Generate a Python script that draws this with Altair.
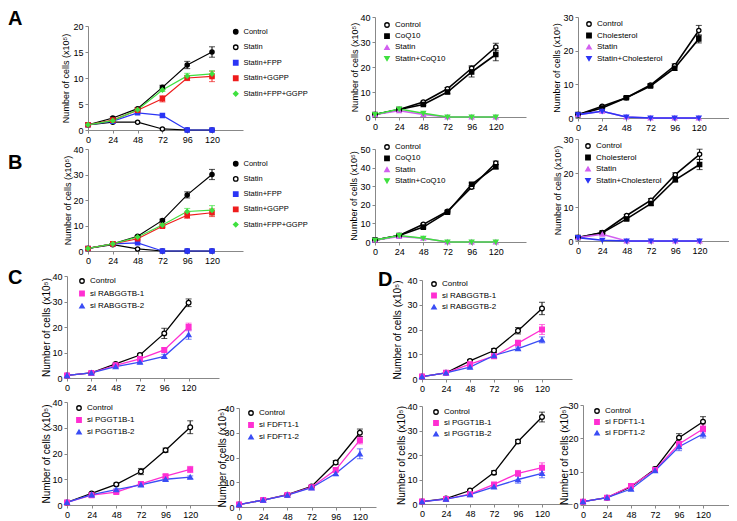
import altair as alt
import pandas as pd

FONT = "Liberation Sans"
TIME = [0, 24, 48, 72, 96, 120]
Y_TITLE = "Number of cells (x10\u2075)"
LETTERS = ["A", "B", "C", "D"]

# ---------------- data ----------------
A1_SERIES = ["Control", "Statin", "Statin+FPP", "Statin+GGPP", "Statin+FPP+GGPP"]
A1_VALUES = [
    [1.0, 2.3, 4.1, 8.2, 12.5, 15.0],
    [1.0, 1.5, 1.5, 0.2, 0.0, 0.0],
    [1.0, 1.7, 3.3, 2.8, 0.0, 0.0],
    [1.0, 1.9, 3.8, 6.0, 10.0, 10.3],
    [1.0, 1.8, 3.9, 7.7, 10.4, 10.8],
]
A1_ERRORS = [
    [0, 0.2, 0.2, 0.4, 0.7, 1.0],
    [0, 0, 0, 0, 0, 0],
    [0, 0, 0, 0, 0, 0],
    [0, 0.1, 0.2, 0.6, 0.5, 1.0],
    [0, 0.1, 0.2, 0.3, 0.5, 0.6],
]

A2_SERIES = ["Control", "CoQ10", "Statin", "Statin+CoQ10"]
A2_VALUES = [
    [1.0, 3.0, 6.0, 11.3, 19.5, 28.0],
    [1.0, 3.0, 5.0, 10.0, 18.0, 25.0],
    [1.0, 2.5, 1.0, 0.0, 0.0, 0.0],
    [1.0, 3.2, 1.5, 0.0, 0.0, 0.0],
]
A2_ERRORS = [
    [0, 0.2, 0.3, 0.5, 1.0, 1.5],
    [0, 0.2, 0.3, 0.7, 2.0, 2.5],
    [0, 0, 0, 0, 0, 0],
    [0, 0, 0, 0, 0, 0],
]

A3_SERIES = ["Control", "Cholesterol", "Statin", "Statin+Cholesterol"]
A3_VALUES = [
    [1.0, 3.5, 6.0, 9.8, 15.5, 26.0],
    [1.0, 3.0, 6.0, 9.5, 14.8, 23.5],
    [1.0, 2.0, 0.3, 0.0, 0.0, 0.0],
    [1.0, 2.0, 0.3, 0.0, 0.0, 0.0],
]
A3_ERRORS = [
    [0, 0.2, 0.3, 0.4, 0.6, 1.5],
    [0, 0.2, 0.3, 0.4, 0.6, 1.2],
    [0, 0, 0, 0, 0, 0],
    [0, 0, 0, 0, 0, 0],
]

B1_SERIES = A1_SERIES
B1_VALUES = [
    [1.0, 2.8, 5.8, 12.0, 22.0, 30.0],
    [1.0, 2.5, 0.8, 0.0, 0.0, 0.0],
    [1.0, 2.8, 3.2, 0.0, 0.0, 0.0],
    [1.0, 2.8, 4.8, 9.7, 14.0, 15.0],
    [1.0, 2.8, 5.5, 10.2, 15.5, 16.0],
]
B1_ERRORS = [
    [0, 0.2, 0.3, 0.5, 1.2, 2.0],
    [0, 0, 0, 0, 0, 0],
    [0, 0, 0, 0, 0, 0],
    [0, 0.2, 0.3, 0.5, 1.2, 1.5],
    [0, 0.2, 0.3, 0.5, 1.2, 1.8],
]

B2_SERIES = A2_SERIES
B2_VALUES = [
    [1.0, 3.5, 9.5, 16.5, 29.5, 42.5],
    [1.0, 3.5, 8.0, 16.0, 31.0, 40.5],
    [1.0, 3.0, 2.0, 0.0, 0.0, 0.0],
    [1.0, 3.5, 2.0, 0.0, 0.0, 0.0],
]
B2_ERRORS = [
    [0, 0.3, 0.5, 0.5, 0.8, 1.0],
    [0, 0.3, 0.5, 0.5, 0.8, 1.2],
    [0, 0, 0, 0, 0, 0],
    [0, 0, 0, 0, 0, 0],
]

B3_SERIES = A3_SERIES
B3_VALUES = [
    [1.0, 2.5, 7.5, 12.0, 19.5, 25.5],
    [1.0, 2.4, 6.5, 11.0, 18.0, 22.5],
    [1.0, 2.0, 0.0, 0.0, 0.0, 0.0],
    [1.0, 0.2, 0.0, 0.0, 0.0, 0.0],
]
B3_ERRORS = [
    [0, 0.2, 0.3, 0.5, 0.6, 1.5],
    [0, 0.2, 0.3, 0.5, 0.6, 1.5],
    [0, 0, 0, 0, 0, 0],
    [0, 0, 0, 0, 0, 0],
]

RAB_SERIES = ["Control", "si RABGGTB-1", "si RABGGTB-2"]
PGG_SERIES = ["Control", "si PGGT1B-1", "si PGGT1B-2"]
FDF_SERIES = ["Control", "si FDFT1-1", "si FDFT1-2"]

CT_VALUES = [
    [1.0, 2.0, 5.5, 9.0, 17.5, 29.5],
    [1.0, 2.0, 5.0, 7.5, 11.0, 20.0],
    [1.0, 2.0, 4.5, 6.2, 8.5, 17.0],
]
CT_ERRORS = [
    [0, 0.2, 0.3, 0.5, 2.0, 1.5],
    [0, 0.2, 0.3, 0.5, 0.8, 1.5],
    [0, 0.2, 0.3, 0.4, 0.8, 1.8],
]

DT_VALUES = [
    [1.0, 2.5, 7.3, 11.5, 19.5, 28.5],
    [1.0, 2.5, 6.0, 9.2, 14.5, 20.0],
    [1.0, 2.5, 4.8, 9.5, 12.3, 15.8],
]
DT_ERRORS = [
    [0, 0.2, 0.5, 0.8, 1.3, 2.5],
    [0, 0.2, 0.5, 0.8, 1.2, 2.0],
    [0, 0.2, 0.3, 0.5, 0.6, 1.2],
]

CBL_VALUES = [
    [1.0, 4.5, 8.0, 13.0, 21.3, 30.2],
    [1.0, 3.8, 5.0, 8.2, 11.2, 13.8],
    [1.0, 4.0, 6.0, 7.8, 10.0, 10.8],
]
CBL_ERRORS = [
    [0, 0.3, 0.5, 1.2, 0.8, 2.5],
    [0, 0.3, 0.5, 0.5, 0.6, 1.2],
    [0, 0.2, 0.3, 0.4, 0.4, 0.5],
]

CBR_VALUES = [
    [1.0, 2.8, 5.0, 8.3, 18.0, 30.0],
    [1.0, 2.8, 4.9, 8.0, 15.0, 27.0],
    [1.0, 2.8, 4.8, 7.8, 13.5, 21.5],
]
CBR_ERRORS = [
    [0, 0.2, 0.3, 0.4, 0.8, 1.5],
    [0, 0.2, 0.3, 0.4, 0.8, 1.5],
    [0, 0.2, 0.3, 0.4, 0.8, 2.0],
]

DBL_VALUES = [
    [1.0, 2.2, 5.5, 12.8, 25.5, 35.5],
    [1.0, 2.0, 4.0, 8.0, 12.5, 14.8],
    [1.0, 2.0, 3.8, 7.0, 10.0, 12.5],
]
DBL_ERRORS = [
    [0, 0.2, 0.3, 0.8, 0.8, 2.0],
    [0, 0.2, 0.3, 0.6, 1.2, 2.0],
    [0, 0.2, 0.3, 0.5, 1.5, 1.8],
]

DBR_VALUES = [
    [1.0, 2.2, 5.5, 10.8, 20.2, 25.0],
    [1.0, 2.2, 5.7, 10.5, 18.3, 22.8],
    [1.0, 2.2, 4.8, 10.3, 17.5, 21.3],
]
DBR_ERRORS = [
    [0, 0.2, 0.3, 0.5, 1.2, 1.5],
    [0, 0.2, 0.3, 0.5, 0.8, 1.2],
    [0, 0.2, 0.3, 0.5, 1.2, 1.2],
]

# ---------------- styles ----------------
BLACK, WHITE = "#000000", "#ffffff"
BLUE, RED, GREEN = "#2b35f5", "#ee1c1c", "#3fe03f"
VIOLET, MAGENTA, BLUE2 = "#d25ff0", "#ff2fd2", "#3a4df5"

STYLE_A1 = ([BLACK, BLACK, BLUE, RED, GREEN], [BLACK, WHITE, BLUE, RED, GREEN],
            ["circle", "circle", "square", "square", "diamond"])
STYLE_A2 = ([BLACK, BLACK, VIOLET, GREEN], [WHITE, BLACK, VIOLET, GREEN],
            ["circle", "square", "triangle-up", "triangle-down"])
STYLE_A3 = ([BLACK, BLACK, VIOLET, BLUE], [WHITE, BLACK, VIOLET, BLUE],
            ["circle", "square", "triangle-up", "triangle-down"])
STYLE_SI = ([BLACK, MAGENTA, BLUE2], [WHITE, MAGENTA, BLUE2],
            ["circle", "square", "triangle-up"])

# ---------------- layout (pixels) ----------------
# grid column widths (page x of column starts: 67, 88, 239, 375, 422, 578, 583)
COL_W = [21, 151, 136, 47, 156, 5, 150]

LAY_A1 = dict(xw=155, xmax=150, h=113, ytop=9, ymax=20, ystep=5, ext=14, tpad=4, lx=144, ly=11, rp=4.5, lw=1.2,
              ps=18, lfs=7.5, letter=0, ldx=-80, ldy=8)
LAY_A2 = dict(xw=151, xmax=150, h=100, ytop=0, ymax=40, ystep=10, ext=14, tpad=2, lx=8, ly=4, rp=1.2, lw=1.6, ps=18)
LAY_A3 = dict(xw=151, xmax=150, h=101, ytop=0, ymax=30, ystep=10, ext=14, tpad=3, lx=7, ly=3, rp=1.5, lw=1.6, ps=18)
LAY_B1 = dict(xw=155, xmax=150, h=112, ytop=10, ymax=40, ystep=10, ext=14, tpad=2, lx=144, ly=21, rp=4.2, lw=1.2,
              ps=18, lfs=7.5, letter=1, ldx=-80, ldy=30)
LAY_B2 = dict(xw=151, xmax=150, h=103, ytop=10, ymax=50, ystep=10, ext=14, tpad=3, lx=8, ly=4, rp=1.3, lw=1.6, ps=18)
LAY_B3 = dict(xw=152, xmax=150, h=102, ytop=0, ymax=30, ystep=10, ext=14, tpad=2, lx=6, ly=3, rp=1.5, lw=1.6, ps=18)
LAY_CT = dict(xw=152, xmax=150, h=118, ytop=16, ymax=40, ystep=10, ext=14, tpad=1.5, tfs=10, lx=11, ly=17,
              rp=2.5, lw=1.3, ps=22, letter=2, ldx=-59, ldy=24)
LAY_DT = dict(xw=150, xmax=150, h=119, ytop=20, ymax=40, ystep=10, ext=14, tpad=5.5, tfs=10, lx=8, ly=20,
              rp=1.5, lw=1.3, ps=22, letter=3, ldx=-44, ldy=26)
LAY_CBL = dict(xw=154, xmax=150, h=117, ytop=14, ymax=40, ystep=10, ext=14, tpad=1.5, tfs=10, lx=8, ly=16,
               rp=2, lw=1.3, ps=22)
LAY_CBR = dict(xw=137, xmax=136, h=119, ytop=20, ymax=40, ystep=10, ext=10, tpad=1.5, tfs=10, lx=8, ly=21,
               rp=2, lw=1.3, ps=22)
LAY_DBL = dict(xw=150, xmax=150, h=116, ytop=18, ymax=40, ystep=10, ext=14, tpad=1.5, tfs=10, lx=10, ly=20,
               rp=1, lw=1.3, ps=22)
LAY_DBR = dict(xw=150, xmax=150, h=117, ytop=17, ymax=30, ystep=10, ext=12, tpad=1.5, tfs=10, lx=10, ly=19,
               rp=1, lw=1.3, ps=22)

NOVIEW = alt.ViewBackground(stroke=None)


def make_df(series, values, errors):
    rows = []
    for s, vals, errs in zip(series, values, errors):
        for t, v, e in zip(TIME, vals, errs):
            rows.append({"t": t, "v": v, "e": e, "lo": v - e, "hi": v + e, "s": s})
    return pd.DataFrame(rows)


def panel(series, values, errors, style, lay, width):
    strokes, fills, shapes = style
    df = make_df(series, values, errors)
    xs = alt.Scale(domain=[0, lay["xmax"]], range=[0, lay["xw"]], nice=False, zero=False)
    ys = alt.Scale(domain=[0, lay["ymax"]], range=[lay["h"], lay["ytop"]], nice=False, zero=False)
    xaxis = alt.Axis(values=TIME, title=None, labelFontSize=9, tickSize=3, labelPadding=2, grid=False,
                     labelFlush=False, labelOverlap=False)
    yaxis = alt.Axis(values=list(range(0, lay["ymax"] + 1, lay["ystep"])), title=Y_TITLE,
                     titleFontSize=lay.get("tfs", 9), titlePadding=lay["tpad"], minExtent=lay["ext"],
                     maxExtent=lay["ext"], labelFontSize=9, tickSize=3, labelPadding=2, grid=False,
                     titleFontWeight="normal", labelFlush=False, labelOverlap=False)
    leg = alt.Legend(title=None, orient="none", legendX=lay["lx"], legendY=lay["ly"], rowPadding=lay["rp"],
                     labelFontSize=lay.get("lfs", 8), symbolSize=20, symbolStrokeWidth=1.3, padding=0,
                     labelOffset=4, labelLimit=200, symbolOpacity=1)
    sc_stroke = alt.Scale(domain=series, range=strokes)
    sc_fill = alt.Scale(domain=series, range=fills)
    sc_shape = alt.Scale(domain=series, range=shapes)

    def X(f):
        return alt.X(f"{f}:Q", scale=xs, axis=xaxis)

    def Y(f):
        return alt.Y(f"{f}:Q", scale=ys, axis=yaxis)

    stroke = alt.Stroke("s:N", scale=sc_stroke, legend=leg)
    fill = alt.Fill("s:N", scale=sc_fill, legend=leg)
    shape = alt.Shape("s:N", scale=sc_shape, legend=leg)
    base = alt.Chart(df)
    # empty layer that carries the legend (fill channel first, so symbols keep their own fill)
    key = base.transform_filter("false").mark_point(filled=False, size=20, strokeWidth=1.3, opacity=1).encode(
        x=X("t"), y=Y("v"), fill=fill, stroke=stroke, shape=shape)
    line = base.mark_line(strokeWidth=lay.get("lw", 1.3)).encode(x=X("t"), y=Y("v"), stroke=stroke)
    err = base.transform_filter("datum.e > 0")
    bars = err.mark_rule(strokeWidth=1).encode(x=X("t"), y=Y("lo"), y2="hi:Q", stroke=stroke)
    cap_hi = err.mark_tick(orient="horizontal", size=6, thickness=1).encode(
        x=X("t"), y=Y("hi"), color=alt.Color("s:N", scale=sc_stroke, legend=None))
    cap_lo = err.mark_tick(orient="horizontal", size=6, thickness=1).encode(
        x=X("t"), y=Y("lo"), color=alt.Color("s:N", scale=sc_stroke, legend=None))
    pts = base.mark_point(filled=False, size=lay.get("ps", 20), strokeWidth=1.3, opacity=1).encode(
        x=X("t"), y=Y("v"), fill=fill, stroke=stroke, shape=shape)
    layers = [key, line, bars, cap_hi, cap_lo, pts]
    if "letter" in lay:
        letter_df = pd.DataFrame({"letter": [LETTERS[lay["letter"]]]})
        layers.append(alt.Chart(letter_df).mark_text(
            font=FONT, fontSize=20, fontWeight="bold", align="left", baseline="alphabetic", color="black"
        ).encode(text="letter:N", x=alt.value(lay["ldx"]), y=alt.value(lay["ldy"])))
    return alt.layer(*layers).properties(width=width, height=lay["h"], view=NOVIEW)


def spacer(w):
    return alt.Chart(pd.DataFrame({"z": [0]})).mark_point(size=0, opacity=0).encode(
        x=alt.X("z:Q", axis=None), y=alt.Y("z:Q", axis=None)).properties(width=w, height=1, view=NOVIEW)


W = COL_W
cells = [
    # row A
    spacer(W[0]),
    panel(A1_SERIES, A1_VALUES, A1_ERRORS, STYLE_A1, LAY_A1, W[1]),
    spacer(W[2]),
    panel(A2_SERIES, A2_VALUES, A2_ERRORS, STYLE_A2, LAY_A2, W[3]),
    spacer(W[4]),
    panel(A3_SERIES, A3_VALUES, A3_ERRORS, STYLE_A3, LAY_A3, W[5]),
    spacer(W[6]),
    # row B
    spacer(W[0]),
    panel(B1_SERIES, B1_VALUES, B1_ERRORS, STYLE_A1, LAY_B1, W[1]),
    spacer(W[2]),
    panel(B2_SERIES, B2_VALUES, B2_ERRORS, STYLE_A2, LAY_B2, W[3]),
    spacer(W[4]),
    panel(B3_SERIES, B3_VALUES, B3_ERRORS, STYLE_A3, LAY_B3, W[5]),
    spacer(W[6]),
    # row C/D top
    panel(RAB_SERIES, CT_VALUES, CT_ERRORS, STYLE_SI, LAY_CT, W[0]),
    spacer(W[1]),
    spacer(W[2]),
    spacer(W[3]),
    panel(RAB_SERIES, DT_VALUES, DT_ERRORS, STYLE_SI, LAY_DT, W[4]),
    spacer(W[5]),
    spacer(W[6]),
    # row C/D bottom
    panel(PGG_SERIES, CBL_VALUES, CBL_ERRORS, STYLE_SI, LAY_CBL, W[0]),
    spacer(W[1]),
    panel(FDF_SERIES, CBR_VALUES, CBR_ERRORS, STYLE_SI, LAY_CBR, W[2]),
    spacer(W[3]),
    panel(PGG_SERIES, DBL_VALUES, DBL_ERRORS, STYLE_SI, LAY_DBL, W[4]),
    spacer(W[5]),
    panel(FDF_SERIES, DBR_VALUES, DBR_ERRORS, STYLE_SI, LAY_DBR, W[6]),
]

chart = alt.concat(
    *cells, columns=7, spacing={"row": 9, "column": 0}, bounds="flush", align="each",
    autosize=alt.AutoSizeParams(type="none"),
    padding={"left": 59, "top": 9, "right": 662, "bottom": 503},
).resolve_scale(
    x="independent", y="independent", color="independent", stroke="independent",
    fill="independent", shape="independent",
).resolve_legend(
    color="independent", stroke="independent", fill="independent", shape="independent",
).resolve_axis(x="independent", y="independent").configure_view(stroke=None).configure_axis(
    domainColor="black", tickColor="black", labelColor="black", titleColor="black",
    labelFont=FONT, titleFont=FONT, domainWidth=1, tickWidth=1,
).configure_legend(labelFont=FONT, labelColor="black").configure(background="white", font=FONT)

chart.save("out.html", embed_options={"renderer": "svg", "actions": False})
